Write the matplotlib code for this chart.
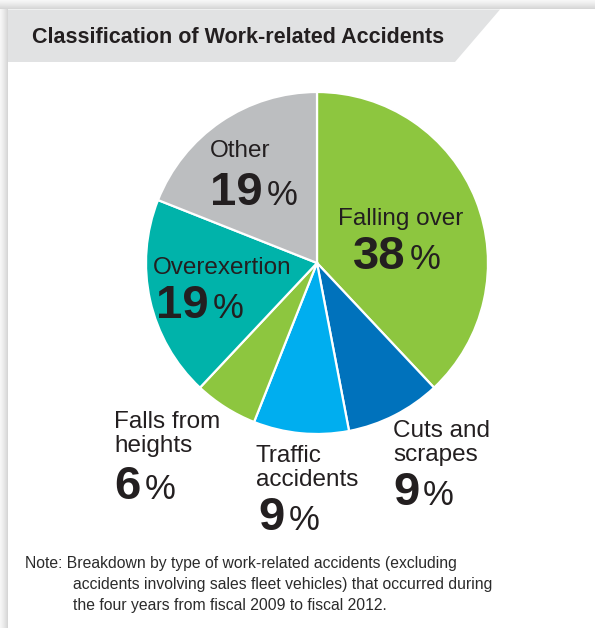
import matplotlib
matplotlib.use("Agg")
import matplotlib.pyplot as plt
import numpy as np
from matplotlib.patches import Polygon

# accident types, clockwise from the top
labels = ["Falling over", "Cuts and\nscrapes", "Traffic\naccidents",
          "Falls from\nheights", "Overexertion", "Other"]
shares = [38, 9, 9, 6, 19, 19]
colors = ["#8dc63f", "#0072bc", "#00aeef", "#8dc63f", "#00b3aa", "#bcbec0"]

title = "Classification of Work-related Accidents"
note = ["Note: Breakdown by type of work-related accidents (excluding",
        "accidents involving sales fleet vehicles) that occurred during",
        "the four years from fiscal 2009 to fiscal 2012."]

ink = "#231f20"
plt.rcParams["font.family"] = ["Liberation Sans", "DejaVu Sans"]

fig = plt.figure(figsize=(5.95, 6.28), dpi=100)
ax = fig.add_axes([0, 0, 1, 1])

# pie (y axis runs downward, so angles are mirrored)
ax.pie(shares, colors=colors, startangle=-90, counterclock=True,
       center=(317, 263), radius=171,
       wedgeprops=dict(edgecolor="white", linewidth=1.6))

ax.set_xlim(0, 595)
ax.set_ylim(628, 0)
ax.axis("off")

# panel shadow along the left and top edges
ax.imshow(np.linspace(0, 1, 32)[None, :], cmap="Greys", vmin=-0.3, vmax=4.5,
          extent=(0, 8, 628, 0), aspect="auto", zorder=0)
ax.imshow(np.linspace(0, 1, 32)[:, None], cmap="Greys", vmin=-0.3, vmax=4.5,
          extent=(0, 595, 9, 0), aspect="auto", zorder=0)

# title bar with slanted end
ax.add_patch(Polygon([(8, 9.5), (500, 9.5), (455, 62), (8, 62)],
                     closed=True, facecolor="#e1e2e3", edgecolor="none", zorder=1))
ax.text(32, 43, title, fontweight="bold", fontsize=15.5, color=ink,
        va="baseline", zorder=2)

ax.set_xlim(0, 595)
ax.set_ylim(628, 0)
fig.canvas.draw()
renderer = fig.canvas.get_renderer()


def value_label(lx, ly, nx, ny, text, val):
    # category name lines, then a bold number with a lighter percent sign
    for i, ln in enumerate(text.split("\n")):
        ax.text(lx, ly + i * 24, ln, fontsize=17.5, color=ink, va="baseline")
    t = ax.text(nx, ny, str(val), fontsize=34, fontweight="bold", color=ink,
                va="baseline")
    bb = t.get_window_extent(renderer)
    x_end = ax.transData.inverted().transform((bb.x1, bb.y0))[0]
    ax.text(x_end + 4, ny, "%", fontsize=25, color=ink, va="baseline")


label_pos = [(338, 225), (393, 437), (256, 462), (114, 428), (153, 274), (210, 157)]
number_pos = [(353, 269), (393, 505), (258, 530), (114, 499), (156, 318), (210, 205)]
for (lx, ly), (nx, ny), lab, v in zip(label_pos, number_pos, labels, shares):
    value_label(lx, ly, nx, ny, lab, v)

# footnote with hanging indent
ax.text(25, 568, note[0], fontsize=11.3, color="#2b2b2b", va="baseline")
for i, ln in enumerate(note[1:]):
    ax.text(73, 589 + i * 21, ln, fontsize=11.3, color="#2b2b2b", va="baseline")

fig.savefig("out.png", dpi=100)
